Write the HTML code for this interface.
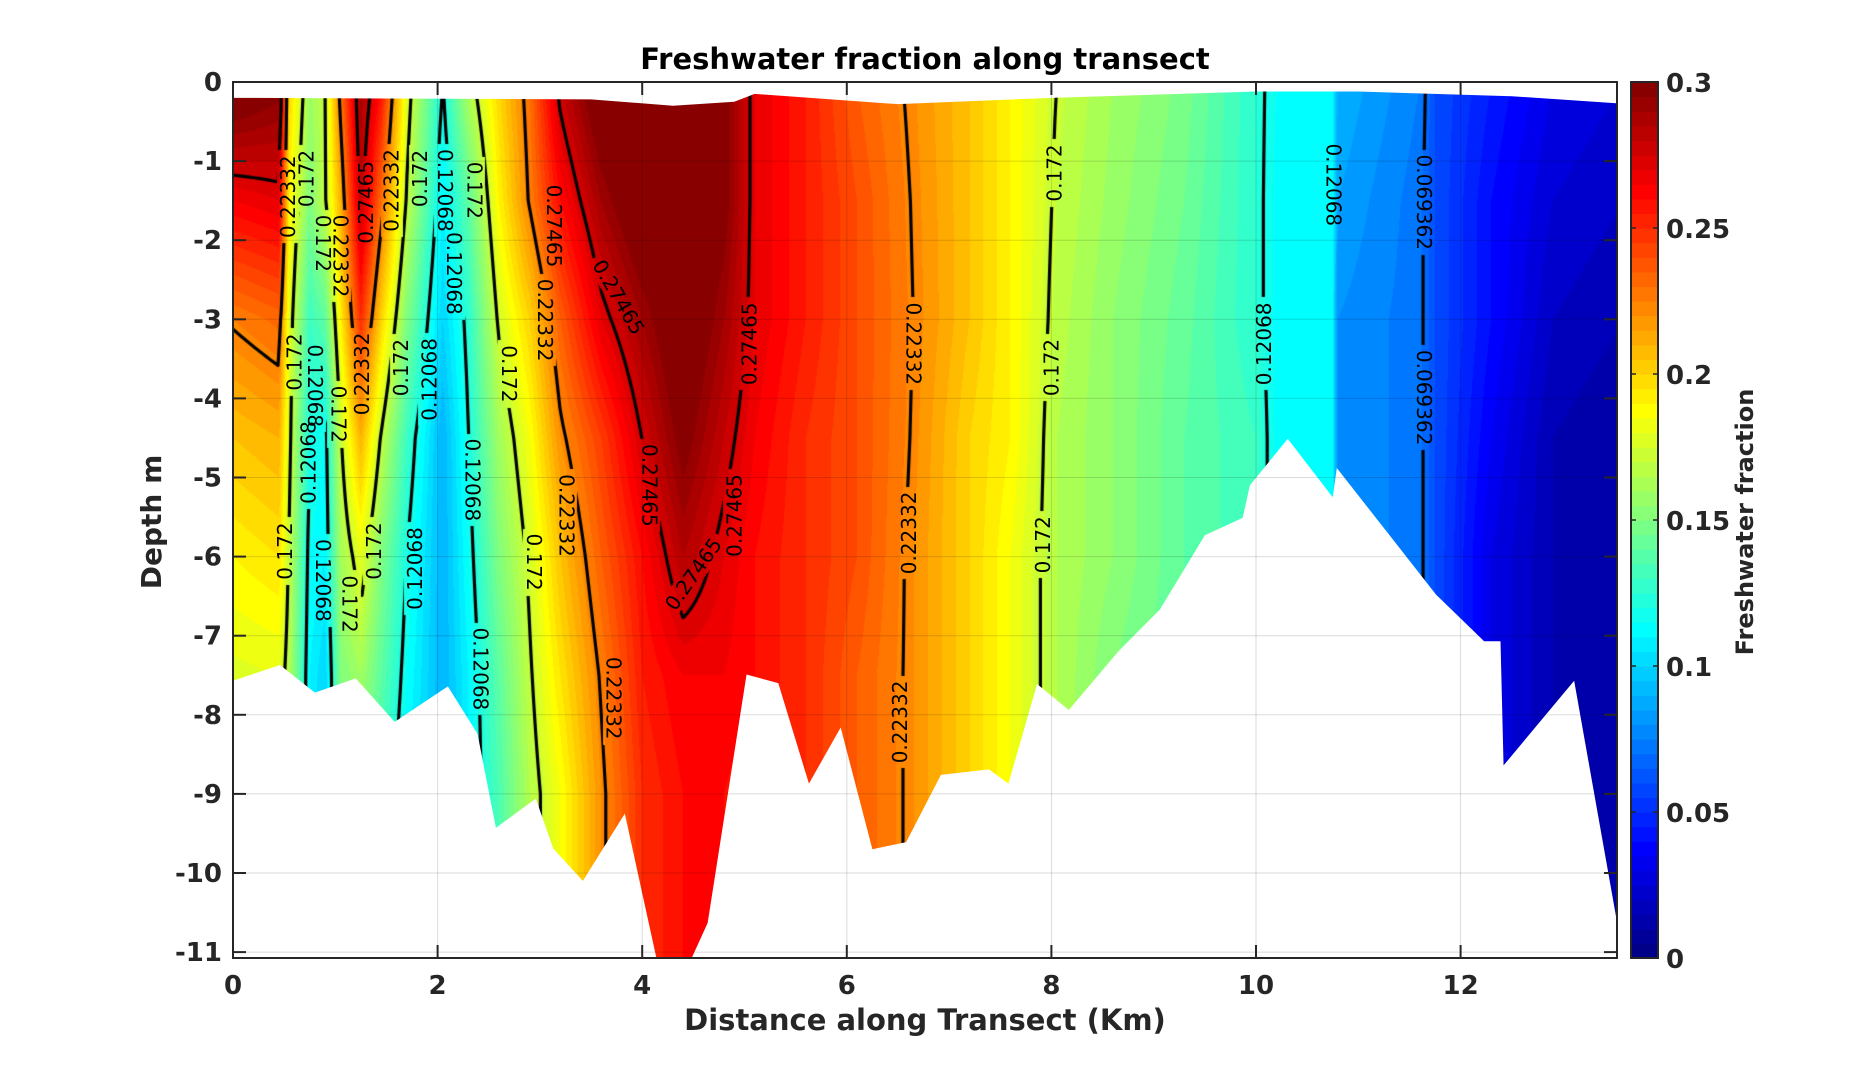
<!DOCTYPE html>
<html><head><meta charset="utf-8"><title>Freshwater fraction along transect</title>
<style>
html,body{margin:0;padding:0;background:#fff;}
#wrap{position:relative;width:1855px;height:1078px;overflow:hidden;font-family:"DejaVu Sans","Liberation Sans",sans-serif;}
canvas{position:absolute;}
svg{position:absolute;left:0;top:0;}
</style></head><body>
<div id="wrap">
<canvas id="fill" width="1384" height="876" style="left:233px;top:82px"></canvas>
<canvas id="lines" width="1384" height="876" style="left:233px;top:82px"></canvas>
<svg id="svg" width="1855" height="1078"></svg>
</div>
<script>
// ---- data ----
const depths = [0, 1.5, 3, 4.5, 6, 7.5, 9, 11.2];
const stationX = [0,0.45,0.55,0.75,0.9,1.05,1.25,1.45,1.7,2.05,2.3,2.6,2.9,3.2,3.6,4.0,4.4,4.8,5.1,5.6,6.1,6.6,7.2,7.6,8.05,8.6,9.3,10.0,10.2,10.75,10.8,11.6,11.75,12.3,12.9,13.6];
const stationValues = [
[0.31,0.265,0.225,0.205,0.19,0.178,0.17,0.17],
[0.30,0.27,0.232,0.21,0.195,0.18,0.175,0.175],
[0.20,0.19,0.18,0.176,0.17,0.165,0.16,0.16],
[0.16,0.15,0.13,0.12,0.115,0.11,0.11,0.11],
[0.17,0.17,0.14,0.115,0.11,0.10,0.10,0.10],
[0.23,0.21,0.19,0.17,0.16,0.15,0.14,0.14],
[0.29,0.28,0.25,0.21,0.18,0.16,0.15,0.15],
[0.26,0.23,0.20,0.17,0.15,0.14,0.13,0.13],
[0.18,0.17,0.15,0.13,0.12,0.115,0.11,0.11],
[0.12,0.11,0.10,0.09,0.09,0.09,0.09,0.09],
[0.165,0.14,0.125,0.12,0.115,0.11,0.11,0.11],
[0.20,0.19,0.175,0.16,0.15,0.14,0.135,0.135],
[0.23,0.225,0.20,0.185,0.175,0.17,0.165,0.165],
[0.28,0.26,0.235,0.22,0.205,0.195,0.185,0.185],
[0.31,0.29,0.27,0.245,0.235,0.225,0.22,0.22],
[0.31,0.31,0.29,0.275,0.26,0.255,0.25,0.25],
[0.31,0.31,0.31,0.30,0.285,0.265,0.26,0.26],
[0.30,0.30,0.29,0.28,0.27,0.265,0.26,0.26],
[0.27,0.27,0.27,0.265,0.26,0.26,0.255,0.255],
[0.255,0.255,0.255,0.25,0.25,0.25,0.25,0.25],
[0.235,0.24,0.24,0.24,0.24,0.235,0.235,0.235],
[0.222,0.224,0.225,0.224,0.222,0.222,0.222,0.222],
[0.205,0.205,0.205,0.20,0.20,0.20,0.20,0.20],
[0.19,0.19,0.19,0.19,0.185,0.185,0.185,0.185],
[0.172,0.17,0.168,0.165,0.165,0.165,0.165,0.165],
[0.16,0.158,0.155,0.155,0.155,0.15,0.15,0.15],
[0.148,0.145,0.142,0.14,0.14,0.14,0.14,0.14],
[0.125,0.125,0.125,0.13,0.13,0.13,0.13,0.13],
[0.115,0.113,0.113,0.113,0.113,0.113,0.113,0.113],
[0.11,0.11,0.11,0.11,0.11,0.11,0.11,0.11],
[0.09,0.085,0.08,0.08,0.08,0.08,0.08,0.08],
[0.075,0.072,0.072,0.072,0.072,0.072,0.072,0.072],
[0.06,0.06,0.06,0.06,0.06,0.06,0.06,0.06],
[0.045,0.04,0.04,0.035,0.03,0.03,0.03,0.03],
[0.03,0.025,0.02,0.015,0.015,0.015,0.015,0.015],
[0.025,0.02,0.015,0.01,0.01,0.01,0.01,0.01]
];
const contourLevels = [0.069362, 0.12068, 0.172, 0.22332, 0.27465];
const bottomX = [0,0.46,0.80,1.20,1.58,2.10,2.39,2.57,2.96,3.13,3.42,3.83,4.16,4.44,4.64,5.02,5.33,5.63,5.94,6.25,6.58,6.92,7.39,7.58,7.86,8.17,8.66,9.06,9.50,9.87,9.94,10.31,10.75,10.79,11.76,12.23,12.39,12.42,13.11,13.54];
const bottomDepth = [7.57,7.37,7.72,7.54,8.09,7.64,8.24,9.43,9.06,9.69,10.10,9.25,11.2,11.2,10.63,7.49,7.6,8.87,8.16,9.70,9.61,8.76,8.69,8.87,7.61,7.94,7.19,6.67,5.73,5.51,5.10,4.51,5.25,4.88,6.48,7.07,7.07,8.64,7.57,10.70];
const surfaceX = [0,3.5,4.3,4.9,5.1,6.5,8,10,11,12.5,13.54];
const surfaceDepth = [0.2,0.22,0.3,0.25,0.15,0.28,0.2,0.12,0.12,0.18,0.27];
const labelX = [0.54,0.72,0.88,1.05,1.3,1.55,1.83,2.07,2.36,0.6,0.8,1.03,1.26,1.64,1.92,2.16,2.7,3.05,3.14,3.77,0.74,0.51,0.88,1.14,1.38,1.78,2.34,2.42,2.94,3.26,3.72,4.07,4.5,4.9,5.05,6.65,6.61,6.52,8.03,8.0,7.92,10.08,10.76,11.64,11.64];
const labelDepth = [1.45,1.22,2.04,2.2,1.52,1.37,1.22,1.37,1.37,3.54,3.84,4.2,3.69,3.61,3.76,2.42,3.69,3.01,1.82,2.72,4.81,5.93,6.3,6.6,5.93,6.15,5.03,7.42,6.07,5.48,7.79,5.1,6.22,5.48,3.31,3.31,5.7,8.09,1.15,3.61,5.85,3.31,1.3,1.52,3.99];
const labelText = ["0.22332","0.172","0.172","0.22332","0.27465","0.22332","0.172","0.12068","0.172","0.172","0.12068","0.172","0.22332","0.172","0.12068","0.12068","0.172","0.22332","0.27465","0.27465","0.12068","0.172","0.12068","0.172","0.172","0.12068","0.12068","0.12068","0.172","0.22332","0.22332","0.27465","0.27465","0.27465","0.27465","0.22332","0.22332","0.22332","0.172","0.172","0.172","0.12068","0.12068","0.069362","0.069362"];
const labelRot = [-90,-90,90,90,-90,-90,-90,90,90,-90,90,90,-90,-90,-90,90,90,90,90,60,-90,-90,90,90,-90,-90,90,90,90,90,90,90,-55,-90,-90,90,-90,-90,-90,-90,-90,-90,90,90,90];
const xTicks = [0,2,4,6,8,10,12];
const yTicks = [0,-1,-2,-3,-4,-5,-6,-7,-8,-9,-10,-11];
const cbTicks = [0,0.05,0.1,0.15,0.2,0.25,0.3];

// ---- layout ----
const L=233,T=82,R=1617,B=958,W=R-L,H=B-T;
const kmPx=102.3, mPx=79.1;
const xs = km => L + km*kmPx;
const ys = d => T + d*mPx;
const CMAX=0.3, NLEV=60;

function jet(t){
  t=Math.max(0,Math.min(1,t));
  const r=Math.max(0,Math.min(1,1.5-Math.abs(4*t-3)));
  const g=Math.max(0,Math.min(1,1.5-Math.abs(4*t-2)));
  const b=Math.max(0,Math.min(1,1.5-Math.abs(4*t-1)));
  return [Math.round(r*255),Math.round(g*255),Math.round(b*255)];
}
function colAt(col,d){
  const v=stationValues[col];
  if(d<=depths[0])return v[0];
  for(let k=0;k<depths.length-1;k++){
    if(d<=depths[k+1]){const f=(d-depths[k])/(depths[k+1]-depths[k]);return v[k]+(v[k+1]-v[k])*f;}
  }
  return v[v.length-1];
}
function field(x,d){
  const n=stationX.length;
  if(x<=stationX[0])return colAt(0,d);
  if(x>=stationX[n-1])return colAt(n-1,d);
  let i=0;while(i<n-2&&x>stationX[i+1])i++;
  const f=(x-stationX[i])/(stationX[i+1]-stationX[i]);
  return colAt(i,d)*(1-f)+colAt(i+1,d)*f;
}

// ---- fill ----
const fc=document.getElementById('fill').getContext('2d');
const img=fc.createImageData(W,H);
for(let py=0;py<H;py++){
  const d=(py+0.5)/mPx;
  for(let px=0;px<W;px++){
    const x=(px+0.5)/kmPx;
    const v=field(x,d);
    let lev=Math.floor(v/CMAX*NLEV);lev=Math.max(0,Math.min(NLEV-1,lev));
    const c=jet((lev+0.5)/NLEV);
    const o=(py*W+px)*4;
    img.data[o]=c[0];img.data[o+1]=c[1];img.data[o+2]=c[2];img.data[o+3]=255;
  }
}
fc.putImageData(img,0,0);

// ---- contour lines (marching squares) ----
const lc=document.getElementById('lines').getContext('2d');
lc.strokeStyle='#000';lc.lineWidth=3.2;lc.lineCap='round';
const S=3,GX=Math.ceil(W/S)+1,GY=Math.ceil(H/S)+1;
const grid=[];
for(let j=0;j<GY;j++){const row=[];for(let i=0;i<GX;i++){row.push(field(i*S/kmPx,j*S/mPx));}grid.push(row);}
contourLevels.forEach(lv=>{
  lc.beginPath();
  for(let j=0;j<GY-1;j++)for(let i=0;i<GX-1;i++){
    const a=grid[j][i],b=grid[j][i+1],c=grid[j+1][i+1],d=grid[j+1][i];
    const pts=[];
    const e=(v1,v2,x1,y1,x2,y2)=>{if((v1-lv)*(v2-lv)<0){const f=(lv-v1)/(v2-v1);pts.push([x1+(x2-x1)*f,y1+(y2-y1)*f]);}};
    const x0=i*S,y0=j*S,x1=x0+S,y1=y0+S;
    e(a,b,x0,y0,x1,y0);e(b,c,x1,y0,x1,y1);e(c,d,x1,y1,x0,y1);e(d,a,x0,y1,x0,y0);
    for(let k=0;k+1<pts.length;k+=2){lc.moveTo(pts[k][0],pts[k][1]);lc.lineTo(pts[k+1][0],pts[k+1][1]);}
  }
  lc.stroke();
});
lc.font='20px "DejaVu Sans","Liberation Sans",sans-serif';
for(let k=0;k<labelText.length;k++){
  const w=lc.measureText(labelText[k]).width;
  lc.save();lc.translate(xs(labelX[k])-L,ys(labelDepth[k])-T);lc.rotate(labelRot[k]*Math.PI/180);
  lc.clearRect(-w/2-5,-11,w+10,22);lc.restore();
}

// ---- SVG overlay ----
const NS='http://www.w3.org/2000/svg';
const svg=document.getElementById('svg');
function mk(tag,attrs,parent){const el=document.createElementNS(NS,tag);for(const k in attrs)el.setAttribute(k,attrs[k]);(parent||svg).appendChild(el);return el;}

let pb='M'+xs(bottomX[0])+','+ys(bottomDepth[0]);
for(let k=1;k<bottomX.length;k++)pb+=' L'+xs(bottomX[k])+','+Math.min(ys(bottomDepth[k]),B+20);
pb+=' L'+(R+2)+','+ys(bottomDepth[bottomX.length-1])+' L'+(R+2)+','+(B+20)+' L'+(L-2)+','+(B+20)+' Z';
const bm=mk('path',{d:pb,fill:'#fff'});


let ps='M'+(L-2)+','+(T-2);
for(let k=0;k<surfaceX.length;k++)ps+=' L'+xs(surfaceX[k])+','+ys(surfaceDepth[k]);
ps+=' L'+(R+2)+','+ys(surfaceDepth[surfaceDepth.length-1])+' L'+(R+2)+','+(T-2)+' Z';
const sm=mk('path',{d:ps,fill:'#fff'});


mk('rect',{x:R,y:T-5,width:12,height:H+10,fill:'#fff'});

const lg=mk('g',{'font-family':'"DejaVu Sans","Liberation Sans",sans-serif','font-size':'20',fill:'#000'});


for(let k=0;k<labelText.length;k++){
  const x=xs(labelX[k]),y=ys(labelDepth[k]);
  const t=mk('text',{x:x,y:y,'text-anchor':'middle','dominant-baseline':'central',transform:`rotate(${labelRot[k]} ${x} ${y})`},lg);
  t.textContent=labelText[k];
  
  
}

const gg=mk('g',{stroke:'#000','stroke-opacity':'0.14','stroke-width':'1'});


xTicks.forEach(v=>{if(v>0)mk('line',{x1:xs(v),y1:T,x2:xs(v),y2:B},gg);});
yTicks.forEach(v=>{if(v<0)mk('line',{x1:L,y1:ys(-v),x2:R,y2:ys(-v)},gg);});

const ax=mk('g',{stroke:'#262626','stroke-width':'2',fill:'none'});


mk('rect',{x:L,y:T,width:W,height:H},ax);
xTicks.forEach(v=>{mk('line',{x1:xs(v),y1:B,x2:xs(v),y2:B-13},ax);mk('line',{x1:xs(v),y1:T,x2:xs(v),y2:T+13},ax);});
yTicks.forEach(v=>{mk('line',{x1:L,y1:ys(-v),x2:L+13,y2:ys(-v)},ax);mk('line',{x1:R,y1:ys(-v),x2:R-13,y2:ys(-v)},ax);});

const tf={'font-family':'"DejaVu Sans","Liberation Sans",sans-serif','font-weight':'bold',fill:'#262626'};
const xtg=mk('g',Object.assign({'font-size':'26','text-anchor':'middle'},tf));


xTicks.forEach(v=>{const t=mk('text',{x:xs(v),y:994},xtg);t.textContent=String(v);});
const ytg=mk('g',Object.assign({'font-size':'26','text-anchor':'end'},tf));


yTicks.forEach(v=>{const t=mk('text',{x:L-11,y:ys(-v)+9},ytg);t.textContent=String(v);});

const CL=1631,CR=1658;
const cg=mk('g',{});


for(let k=0;k<NLEV;k++){
  const c=jet((k+0.5)/NLEV);
  const y1=B-(k+1)/NLEV*H,y0=B-k/NLEV*H;
  mk('rect',{x:CL,y:y1,width:CR-CL,height:y0-y1+0.6,fill:`rgb(${c[0]},${c[1]},${c[2]})`},cg);
}
mk('rect',{x:CL,y:T,width:CR-CL,height:H,fill:'none',stroke:'#262626','stroke-width':'2'},cg);
const ctg=mk('g',Object.assign({'font-size':'26','text-anchor':'start'},tf));


cbTicks.forEach(v=>{const y=B-v/CMAX*H;mk('line',{x1:CL,y1:y,x2:CL+5,y2:y,stroke:'#262626','stroke-width':'1.5'},cg);mk('line',{x1:CR,y1:y,x2:CR-5,y2:y,stroke:'#262626','stroke-width':'1.5'},cg);const t=mk('text',{x:1666,y:y+10},ctg);t.textContent=String(v);});

const title=mk('text',Object.assign({x:925,y:69,'font-size':'29','text-anchor':'middle'},tf));
title.setAttribute('fill','#000');
title.textContent='Freshwater fraction along transect';


const xl=mk('text',Object.assign({x:925,y:1030,'font-size':'29','text-anchor':'middle'},tf));
xl.textContent='Distance along Transect (Km)';


const yl=mk('text',Object.assign({x:161,y:522,'font-size':'28','text-anchor':'middle',transform:'rotate(-90 161 522)'},tf));
yl.textContent='Depth m';


const cl=mk('text',Object.assign({x:1753,y:522,'font-size':'24','text-anchor':'middle',transform:'rotate(-90 1753 522)'},tf));
cl.textContent='Freshwater fraction';


</script>
</body></html>
